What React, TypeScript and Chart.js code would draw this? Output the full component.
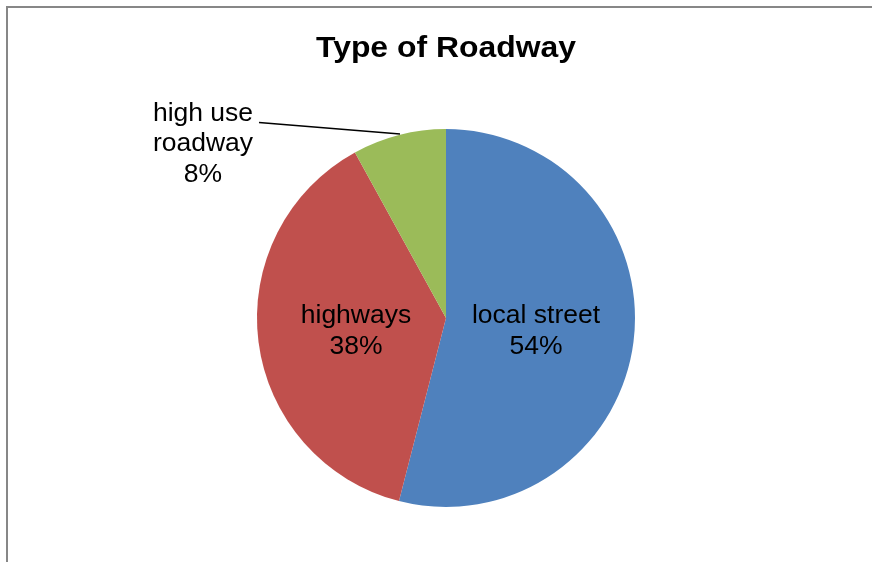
import React, { useEffect, useRef } from "react";
import { Chart, registerables } from "chart.js";

Chart.register(...registerables);

const TITLE = "Type of Roadway";
const categories = ["local street", "highways", "high use roadway"];
const labelLines = [["local street"], ["highways"], ["high use", "roadway"]];
const values = [54, 38, 8];
const colors = ["#4F81BD", "#C0504D", "#9BBB59"];
const outsideLabel = [false, false, true];

const FONT = '"Liberation Sans", Arial, sans-serif';

const decorPlugin = {
  id: "decor",
  beforeDraw(chart: any) {
    const ctx = chart.ctx;
    ctx.save();
    ctx.fillStyle = "#ffffff";
    ctx.fillRect(0, 0, chart.width, chart.height);
    ctx.strokeStyle = "#878787";
    ctx.lineWidth = 2;
    ctx.beginPath();
    ctx.moveTo(7, chart.height + 5);
    ctx.lineTo(7, 7);
    ctx.lineTo(chart.width + 5, 7);
    ctx.stroke();
    ctx.restore();
  },
  afterDraw(chart: any) {
    const ctx = chart.ctx;
    const meta = chart.getDatasetMeta(0);
    const drawText = (text: string, x: number, y: number, font: string, sx: number) => {
      ctx.save();
      ctx.translate(x, y);
      ctx.scale(sx, 1);
      ctx.font = font;
      ctx.textAlign = "center";
      ctx.textBaseline = "alphabetic";
      ctx.fillStyle = "#000000";
      ctx.fillText(text, 0, 0);
      ctx.restore();
    };
    // title
    const area = chart.chartArea;
    const cx0 = (area.left + area.right) / 2;
    drawText(TITLE, cx0, 56.5, `bold 29px ${FONT}`, 1.1);

    const labFont = `25px ${FONT}`;
    meta.data.forEach((arc: any, i: number) => {
      const { x, y, startAngle, endAngle, outerRadius } = arc.getProps(
        ["x", "y", "startAngle", "endAngle", "outerRadius"],
        true
      );
      const mid = (startAngle + endAngle) / 2;
      const lines = [...labelLines[i], `${values[i]}%`];
      if (!outsideLabel[i]) {
        const r = outerRadius * 0.48;
        const px = x + Math.cos(mid) * r;
        const py = y + Math.sin(mid) * r;
        lines.forEach((t, k) => drawText(t, px, py - 6.5 + k * 31, labFont, 1.06));
      } else {
        const ax = x + Math.cos(mid) * outerRadius;
        const ay = y + Math.sin(mid) * outerRadius;
        ctx.save();
        ctx.strokeStyle = "#000000";
        ctx.lineWidth = 1.5;
        ctx.beginPath();
        ctx.moveTo(ax + 1, ay - 1);
        ctx.lineTo(ax - 140, ay - 12.5);
        ctx.stroke();
        ctx.restore();
        const tx = ax - 196;
        lines.forEach((t, k) => drawText(t, tx, ay - 14 + k * 30.5, labFont, 1.06));
      }
    });
  },
};

export default function App() {
  const ref = useRef<HTMLCanvasElement | null>(null);
  useEffect(() => {
    if (!ref.current) return;
    const chart = new Chart(ref.current, {
      type: "pie",
      data: {
        labels: categories,
        datasets: [
          {
            data: values,
            backgroundColor: colors,
            borderWidth: 0,
            hoverOffset: 0,
          },
        ],
      },
      options: {
        responsive: true,
        maintainAspectRatio: false,
        animation: false,
        layout: { padding: { left: 257, right: 237, top: 129, bottom: 55 } },
        plugins: {
          legend: { display: false },
          title: { display: false },
          tooltip: { enabled: false },
        },
        events: [],
      },
      plugins: [decorPlugin],
    });
    return () => chart.destroy();
  }, []);
  return (
    <div style={{ position: "absolute", left: 0, top: 0, width: 872, height: 562 }}>
      <canvas ref={ref} />
    </div>
  );
}
